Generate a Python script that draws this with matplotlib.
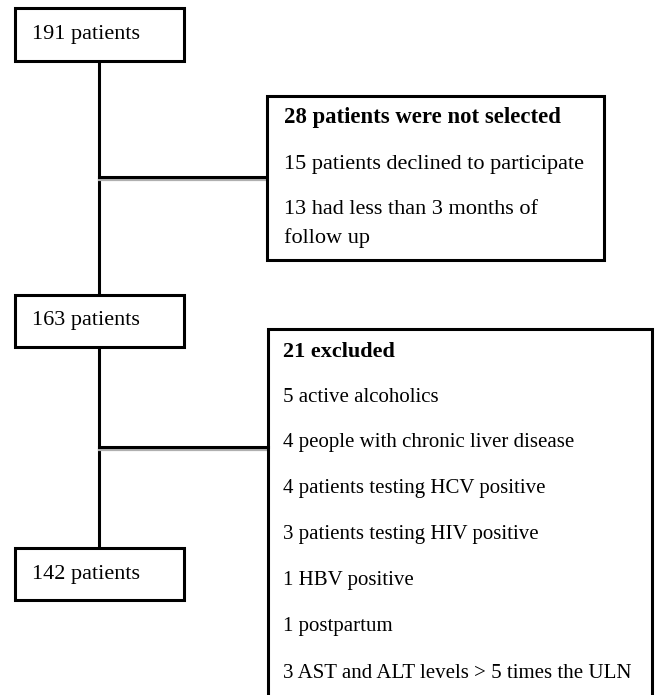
import matplotlib.pyplot as plt
from matplotlib.patches import Rectangle

# flow counts (left column)
stage_labels = ["191 patients", "163 patients", "142 patients"]

# side boxes: headline + items
not_selected_title = "28 patients were not selected"
not_selected_items = ["15 patients declined to participate",
                      "13 had less than 3 months of",
                      "follow up"]

excluded_title = "21 excluded"
excluded_items = ["5 active alcoholics",
                  "4 people with chronic liver disease",
                  "4 patients testing HCV positive",
                  "3 patients testing HIV positive",
                  "1 HBV positive",
                  "1 postpartum",
                  "3 AST and ALT levels > 5 times the ULN"]

W, H = 656, 695
fig = plt.figure(figsize=(W / 100, H / 100), dpi=100)
ax = fig.add_axes([0, 0, 1, 1])
ax.set_xlim(0, W)
ax.set_ylim(H, 0)
ax.axis("off")

lw = 2.2  # ~3 px
serif = "Liberation Serif"

# main vertical spine
ax.plot([99, 99], [60, 548], color="black", lw=lw, zorder=1)

# horizontal connectors with grey shadow
for y in [177, 447]:
    ax.plot([99, 268], [y + 3, y + 3], color="#b0b0b0", lw=1.6, zorder=1)
    ax.plot([99, 268], [y, y], color="black", lw=lw, zorder=2)

# left stage boxes
stage_y = [(8, 61), (295, 347), (548, 600)]
for label, (y0, y1) in zip(stage_labels, stage_y):
    ax.add_patch(Rectangle((15, y0), 169, y1 - y0, facecolor="white",
                           edgecolor="black", lw=lw, zorder=3))
    ax.text(32, (y0 + y1) / 2, label, fontsize=16, family=serif,
            va="center", ha="left", zorder=4)

# not selected box
ax.add_patch(Rectangle((267, 96), 337, 164, facecolor="white",
                       edgecolor="black", lw=lw, zorder=3))
ax.text(284, 117, not_selected_title, fontsize=16.4, family=serif,
        weight="bold", va="center", zorder=4)
for item, y in zip(not_selected_items, [164, 210, 238]):
    ax.text(284, y, item, fontsize=16, family=serif, va="center", zorder=4)

# excluded box (runs off the bottom)
ax.plot([268, 268, 652, 652], [H + 5, 329, 329, H + 5], color="black",
        lw=lw, zorder=3, solid_joinstyle="miter")
ax.text(283, 352, excluded_title, fontsize=16, family=serif,
        weight="bold", va="center", zorder=4)
for i, item in enumerate(excluded_items):
    ax.text(283, 397 + 46 * i, item, fontsize=15, family=serif,
            va="center", zorder=4)

fig.savefig("out.png", dpi=100, facecolor="white")
